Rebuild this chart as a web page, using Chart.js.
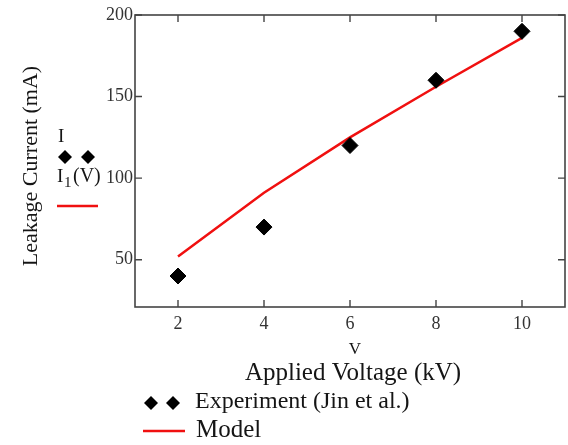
<!DOCTYPE html>
<html>
<head>
<meta charset="utf-8">
<script src="https://cdn.jsdelivr.net/npm/chart.js@4"></script>
<style>
html,body{margin:0;padding:0;background:#fff;}
#wrap{position:relative;width:568px;height:445px;}
</style>
</head>
<body>
<div id="wrap"><canvas id="c" width="568" height="445"></canvas></div>
<script>
// ---- data ----
const voltage = [2, 4, 6, 8, 10];
const experiment = [40, 70, 120, 160, 190];
const modelVoltage = [2, 4, 6, 8, 10];
const model = [52, 91, 125, 156, 186];
const xTicks = [2, 4, 6, 8, 10];
const yTicks = [50, 100, 150, 200];
const xTitle = "Applied Voltage (kV)";
const xVar = "V";
const yTitle = "Leakage Current (mA)";
const expLabel = "Experiment (Jin et al.)";
const modelLabel = "Model";

const SERIF = "'Liberation Serif', 'DejaVu Serif', serif";
const RED = "#f01010";
const TXT = "#151515";

function diamond(ctx, x, y, r) {
  ctx.beginPath();
  ctx.moveTo(x - r, y); ctx.lineTo(x, y - r); ctx.lineTo(x + r, y); ctx.lineTo(x, y + r);
  ctx.closePath(); ctx.fill();
}

const decor = {
  id: 'decor',
  afterDraw(chart) {
    const ctx = chart.ctx;
    const a = chart.chartArea;
    const xs = chart.scales.x, ys = chart.scales.y;
    ctx.save();
    // frame
    ctx.strokeStyle = '#444'; ctx.lineWidth = 1.6;
    ctx.strokeRect(a.left, a.top, a.right - a.left, a.bottom - a.top);
    // inward ticks on all four sides
    const TL = 7;
    ctx.lineWidth = 1.4;
    ctx.beginPath();
    xTicks.forEach(v => {
      const px = xs.getPixelForValue(v);
      ctx.moveTo(px, a.bottom); ctx.lineTo(px, a.bottom - TL);
      ctx.moveTo(px, a.top); ctx.lineTo(px, a.top + TL);
    });
    yTicks.forEach(v => {
      const py = ys.getPixelForValue(v);
      ctx.moveTo(a.left, py); ctx.lineTo(a.left + TL, py);
      ctx.moveTo(a.right, py); ctx.lineTo(a.right - TL, py);
    });
    ctx.stroke();

    ctx.fillStyle = TXT;
    // y title (rotated)
    ctx.save();
    ctx.translate(31, 166);
    ctx.rotate(-Math.PI / 2);
    ctx.font = '22px ' + SERIF;
    ctx.textAlign = 'center'; ctx.textBaseline = 'middle';
    ctx.fillText(yTitle, 0, 0);
    ctx.restore();

    // left legend: I / diamonds / I1(V) / red line
    ctx.font = '19px ' + SERIF;
    ctx.textAlign = 'left'; ctx.textBaseline = 'middle';
    ctx.fillText('I', 58, 137);
    ctx.fillStyle = '#000';
    diamond(ctx, 65, 157, 7);
    diamond(ctx, 88, 157, 7);
    ctx.fillStyle = TXT;
    ctx.fillText('I', 57, 177);
    ctx.font = '15px ' + SERIF;
    ctx.fillText('1', 64, 183);
    ctx.font = '20px ' + SERIF;
    ctx.fillText('(V)', 73, 177);
    ctx.strokeStyle = RED; ctx.lineWidth = 2.5;
    ctx.beginPath(); ctx.moveTo(57, 206); ctx.lineTo(98, 206); ctx.stroke();

    // bottom: V and axis title
    ctx.fillStyle = TXT;
    ctx.textAlign = 'center';
    ctx.font = '17px ' + SERIF;
    ctx.fillText(xVar, 355, 350);
    ctx.font = '25px ' + SERIF;
    ctx.fillText(xTitle, 353, 373);

    // bottom legend
    ctx.fillStyle = '#000';
    diamond(ctx, 151, 403, 7);
    diamond(ctx, 173, 403, 7);
    ctx.fillStyle = TXT;
    ctx.textAlign = 'left';
    ctx.font = '24px ' + SERIF;
    ctx.fillText(expLabel, 195, 402);
    ctx.strokeStyle = RED; ctx.lineWidth = 2.5;
    ctx.beginPath(); ctx.moveTo(143, 431); ctx.lineTo(185, 431); ctx.stroke();
    ctx.font = '25px ' + SERIF;
    ctx.fillText(modelLabel, 196, 430);
    ctx.restore();
  }
};

new Chart(document.getElementById('c'), {
  type: 'scatter',
  data: {
    datasets: [
      {
        label: modelLabel,
        data: modelVoltage.map((v, i) => ({x: v, y: model[i]})),
        showLine: true,
        borderColor: RED,
        borderWidth: 2.5,
        pointRadius: 0,
        tension: 0,
        order: 2
      },
      {
        label: expLabel,
        data: voltage.map((v, i) => ({x: v, y: experiment[i]})),
        pointStyle: 'rectRot',
        pointRadius: 8,
        pointBackgroundColor: '#000',
        pointBorderColor: '#000',
        pointBorderWidth: 1,
        showLine: false,
        order: 1
      }
    ]
  },
  options: {
    responsive: false,
    animation: false,
    events: [],
    layout: { autoPadding: false, padding: { top: 15, right: 3, left: 0, bottom: 0 } },
    plugins: { legend: { display: false }, tooltip: { enabled: false } },
    scales: {
      x: {
        type: 'linear', min: 1, max: 11,
        afterBuildTicks: s => { s.ticks = xTicks.map(v => ({value: v})); },
        afterFit: s => { s.height = 138; s.paddingLeft = 0; s.paddingRight = 0; },
        grid: { display: false, drawTicks: false },
        border: { display: false },
        ticks: { color: '#333', font: { family: SERIF, size: 18 }, padding: 6, maxRotation: 0 }
      },
      y: {
        type: 'linear', min: 21, max: 200,
        afterBuildTicks: s => { s.ticks = yTicks.map(v => ({value: v})); },
        afterFit: s => { s.width = 135; s.paddingTop = 0; s.paddingBottom = 0; },
        grid: { display: false, drawTicks: false },
        border: { display: false },
        ticks: { color: '#333', font: { family: SERIF, size: 18 }, padding: 2 }
      }
    }
  },
  plugins: [decor]
});
</script>
</body>
</html>
